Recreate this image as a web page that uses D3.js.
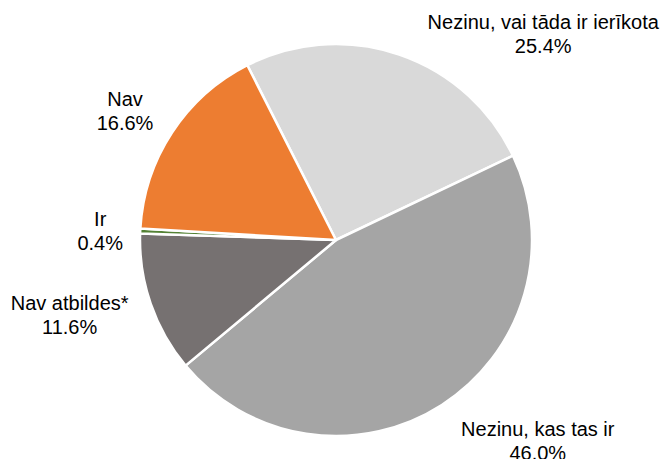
<!DOCTYPE html>
<html>
<head>
<meta charset="utf-8">
<script src="https://cdn.jsdelivr.net/npm/d3@7"></script>
<style>
  body { margin: 0; background: #fff; }
  text { font-family: "Liberation Sans", Arial, sans-serif; font-size: 20px; fill: #000; }
</style>
</head>
<body>
<svg></svg>
<script>
// slices in clockwise order
var categories = ["Nezinu, vai tāda ir ierīkota", "Nezinu, kas tas ir", "Nav atbildes*", "Ir", "Nav"]
var values = [25.4, 46.0, 11.6, 0.4, 16.6]
var colors = ["#d9d9d9", "#a5a5a5", "#767171", "#548235", "#ed7d31"]
// label nudges from the outer edge of each slice
var labelNudge = [[144, -25], [96, 31], [-81, 6], [-40, -5], [-47, -27]]

var screen = {width: 669, height: 459}
var center = {x: 336, y: 240}
var radius = 196
var startDeg = -26.9

var svg = d3.select("svg")
            .attr("width", screen.width)
            .attr("height", screen.height)

var pie = d3.pie()
            .sort(null)
            .startAngle(startDeg * Math.PI / 180)
            .endAngle((startDeg + 360) * Math.PI / 180)
            .value(function(d){return d.value;})

var data = categories.map(function(c, i){return {name: c, value: values[i], color: colors[i], nudge: labelNudge[i]};})
var arcs = pie(data)

var arc = d3.arc().innerRadius(0).outerRadius(radius)

var g = svg.append("g")
           .attr("transform", "translate(" + center.x + "," + center.y + ")")

g.selectAll("path")
 .data(arcs)
 .enter()
 .append("path")
 .attr("d", arc)
 .attr("fill", function(d){return d.data.color;})
 .attr("stroke", "#fff")
 .attr("stroke-width", 2.5)
 .attr("stroke-linejoin", "round")

var fmt = d3.format(".1f")

var labels = g.selectAll("text.label")
              .data(arcs)
              .enter()
              .append("text")
              .attr("class", "label")
              .attr("text-anchor", "middle")
              .attr("transform", function(d){
                var mid = (d.startAngle + d.endAngle) / 2
                var x = Math.sin(mid) * radius + d.data.nudge[0]
                var y = -Math.cos(mid) * radius + d.data.nudge[1]
                return "translate(" + x + "," + y + ")"
              })

labels.append("tspan")
      .attr("x", 0)
      .attr("y", 0)
      .text(function(d){return d.data.name;})

labels.append("tspan")
      .attr("x", 0)
      .attr("y", 24)
      .text(function(d){return fmt(d.data.value) + "%";})
</script>
</body>
</html>
